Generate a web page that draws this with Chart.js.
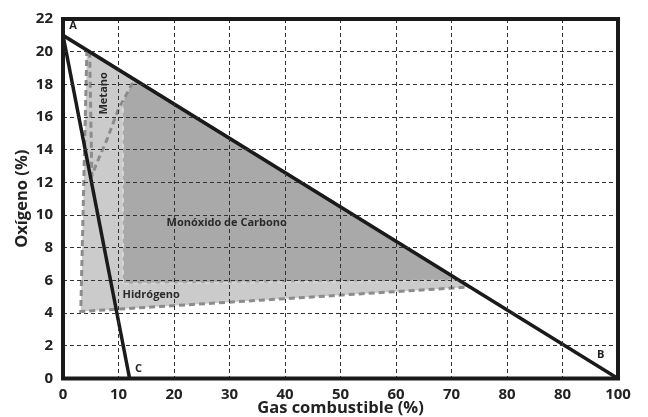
<!DOCTYPE html>
<html>
<head>
<meta charset="utf-8">
<script src="https://cdn.jsdelivr.net/npm/chart.js@4.4.1/dist/chart.umd.min.js"></script>
<style>
  html, body { margin: 0; padding: 0; background: #fff; }
  #wrap { width: 648px; height: 417px; }
</style>
</head>
<body>
<div id="wrap"><canvas id="diagrama"></canvas></div>
<script>
// ejes
var xTicks = [0, 10, 20, 30, 40, 50, 60, 70, 80, 90, 100];
var xTickLabels = ['0', '10', '20', '30', '40', '50', '60', '70', '80', '80', '100']; // tal cual el original
var yTicks = [0, 2, 4, 6, 8, 10, 12, 14, 16, 18, 20, 22];

// lineas A-B y A-C
var lineaAB_x = [0, 100];
var lineaAB_y = [21, 0];
var lineaAC_x = [0, 12];
var lineaAC_y = [21, 0];

// zonas inflamables (poligonos cerrados)
var hidrogeno_x = [4.3, 3.2, 73.3, 4.3];
var hidrogeno_y = [20.1, 4.1, 5.6, 20.1];
var monoxido_x = [10.8, 10.8, 12.4, 13.3, 71.5, 10.8];
var monoxido_y = [5.8, 17.0, 18.0, 18.2, 6.0, 5.8];
var metano_x = [4.8, 5.2, 6.1, 7.9, 10.0, 12.4, 13.3, 4.8];
var metano_y = [20.0, 12.4, 13.2, 14.6, 16.5, 18.0, 18.2, 20.0];

function puntos(xs, ys) {
    return xs.map(function (x, i) { return { x: x, y: ys[i] }; });
}

var fuente = "'Open Sans', Lato, sans-serif";

// marco grueso y textos dentro del grafico
var marcoYTextos = {
    id: 'marcoYTextos',
    afterDraw: function (chart) {
        var ctx = chart.ctx;
        var a = chart.chartArea;
        var sx = chart.scales.x, sy = chart.scales.y;
        ctx.save();
        ctx.strokeStyle = '#1a1a1a';
        ctx.lineWidth = 4;
        ctx.strokeRect(a.left, a.top, a.right - a.left, a.bottom - a.top);

        ctx.fillStyle = '#222';
        ctx.textAlign = 'center';
        ctx.textBaseline = 'middle';
        ctx.font = 'bold 11px ' + fuente;
        ctx.fillText('A', sx.getPixelForValue(1.8), sy.getPixelForValue(21.6));
        ctx.fillText('B', sx.getPixelForValue(96.9), sy.getPixelForValue(1.45));
        ctx.fillText('C', sx.getPixelForValue(13.6), sy.getPixelForValue(0.6));

        ctx.fillStyle = '#2a2a2a';
        ctx.font = 'bold 11px ' + fuente;
        ctx.fillText('Monóxido de Carbono', sx.getPixelForValue(29.5), sy.getPixelForValue(9.55));
        ctx.fillText('Hidrógeno', sx.getPixelForValue(15.9), sy.getPixelForValue(5.1));

        ctx.translate(sx.getPixelForValue(7.4), sy.getPixelForValue(17.45));
        ctx.rotate(-Math.PI / 2);
        ctx.fillText('Metano', 0, 0);
        ctx.restore();
    }
};

var ctxDiagrama = document.querySelector('#diagrama').getContext('2d');
var diagrama = new Chart(ctxDiagrama, {
    type: 'scatter',
    data: {
        datasets: [{
            label: 'A-B',
            data: puntos(lineaAB_x, lineaAB_y),
            showLine: true,
            borderColor: '#1a1a1a',
            borderWidth: 3.5,
            pointRadius: 0,
            fill: false
        }, {
            label: 'A-C',
            data: puntos(lineaAC_x, lineaAC_y),
            showLine: true,
            borderColor: '#1a1a1a',
            borderWidth: 3.5,
            pointRadius: 0,
            fill: false
        }, {
            label: 'Metano',
            data: puntos(metano_x, metano_y),
            showLine: true,
            borderColor: '#8c8c8c',
            borderWidth: 3,
            borderDash: [6, 4],
            backgroundColor: '#cbcbcb',
            pointRadius: 0,
            fill: 'shape'
        }, {
            label: 'Monóxido de Carbono',
            data: puntos(monoxido_x, monoxido_y),
            showLine: true,
            borderColor: '#d6d6d6',
            borderWidth: 2,
            borderDash: [5, 4],
            backgroundColor: '#a9a9a9',
            pointRadius: 0,
            fill: 'shape'
        }, {
            label: 'Hidrógeno',
            data: puntos(hidrogeno_x, hidrogeno_y),
            showLine: true,
            borderColor: '#8c8c8c',
            borderWidth: 3,
            borderDash: [6, 4],
            backgroundColor: '#cbcbcb',
            pointRadius: 0,
            fill: 'shape'
        }]
    },
    options: {
        responsive: true,
        maintainAspectRatio: false,
        animation: false,
        layout: { padding: { top: 19, right: 30, left: 0, bottom: 0 } },
        plugins: {
            legend: { display: false },
            tooltip: { enabled: false }
        },
        scales: {
            x: {
                type: 'linear',
                min: 0,
                max: 100,
                afterFit: function (scale) { scale.height = 38.5; },
                afterBuildTicks: function (scale) {
                    scale.ticks = xTicks.map(function (v) { return { value: v }; });
                },
                grid: { z: 1, color: '#333333', lineWidth: 1, drawTicks: false },
                border: { display: false, dash: [4, 3] },
                ticks: {
                    padding: 7,
                    color: '#222',
                    font: { family: fuente, size: 15, weight: 'bold' },
                    callback: function (v) { return xTickLabels[xTicks.indexOf(v)]; }
                },
                title: {
                    display: true,
                    text: 'Gas combustible (%)',
                    color: '#222',
                    padding: { top: 0, bottom: 0 },
                    font: { family: fuente, size: 16.5, weight: 'bold', lineHeight: 1 }
                }
            },
            y: {
                type: 'linear',
                min: 0,
                max: 22,
                afterFit: function (scale) { scale.width = 63; },
                afterBuildTicks: function (scale) {
                    scale.ticks = yTicks.map(function (v) { return { value: v }; });
                },
                grid: { z: 1, color: '#333333', lineWidth: 1, drawTicks: false },
                border: { display: false, dash: [4, 3] },
                ticks: {
                    padding: 10,
                    color: '#222',
                    font: { family: fuente, size: 15, weight: 'bold' }
                },
                title: {
                    display: true,
                    text: 'Oxígeno (%)',
                    color: '#222',
                    padding: { top: 14, bottom: 0 },
                    font: { family: fuente, size: 16.5, weight: 'bold', lineHeight: 1 }
                }
            }
        }
    },
    plugins: [marcoYTextos]
});
</script>
</body>
</html>
